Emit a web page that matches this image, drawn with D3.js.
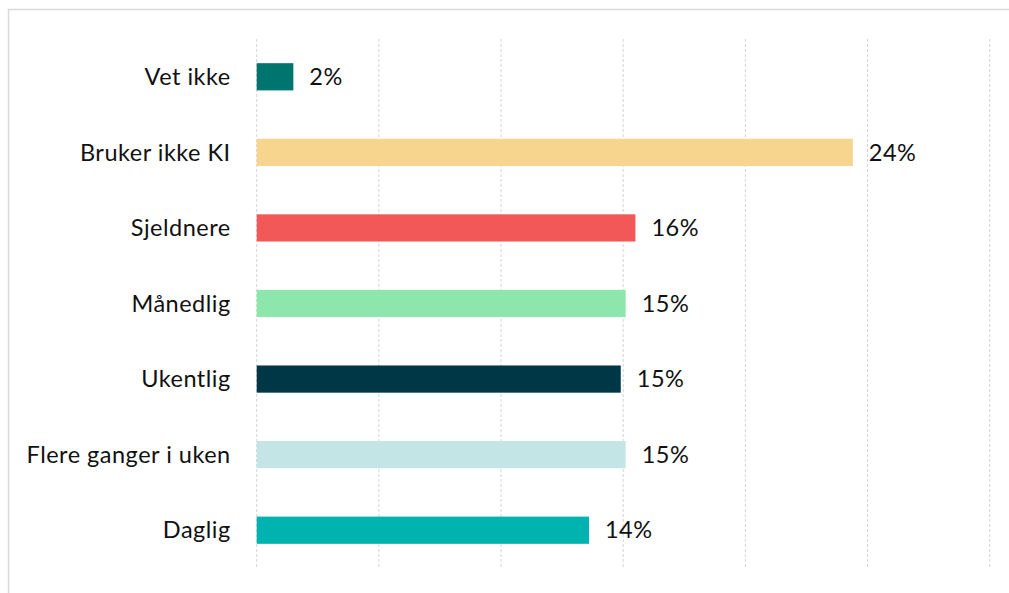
<!DOCTYPE html>
<html>
<head>
<meta charset="utf-8">
<script src="https://cdn.jsdelivr.net/npm/d3@7"></script>
<style>
  body { margin: 0; background: #fff; }
  svg { display: block; }
</style>
</head>
<body>
<div id="chart"></div>
<script>
const categories = ["Vet ikke", "Bruker ikke KI", "Sjeldnere", "Månedlig", "Ukentlig", "Flere ganger i uken", "Daglig"];
const values = [1.5, 24.4, 15.5, 15.1, 14.9, 15.1, 13.6];
const labels = ["2%", "24%", "16%", "15%", "15%", "15%", "14%"];
const colors = ["#00746F", "#F7D58E", "#F25858", "#8DE6AB", "#003746", "#C4E5E6", "#00B3B1"];
const gridTicks = [0, 5, 10, 15, 20, 25, 30];

const width = 1009, height = 593;
const margin = { top: 39, right: 19.3, bottom: 25, left: 256.7 };

const svg = d3.select("#chart")
  .append("svg")
  .attr("width", width).attr("height", height);

// ramme
svg.append("rect")
  .attr("x", 8.5).attr("y", 9.5)
  .attr("width", width + 10).attr("height", height + 10)
  .attr("fill", "none")
  .attr("stroke", "#d9d9d9")
  .attr("stroke-width", 1.5);

const x = d3.scaleLinear()
  .domain([0, 30])
  .range([margin.left, width - margin.right]);

const y = d3.scaleBand()
  .domain(categories)
  .range([margin.top, height - margin.bottom])
  .paddingInner(0.64)
  .paddingOuter(0.32);

// rutenett
svg.append("g")
  .selectAll("line")
  .data(gridTicks)
  .join("line")
  .attr("x1", d => x(d)).attr("x2", d => x(d))
  .attr("y1", margin.top).attr("y2", height - margin.bottom)
  .attr("stroke", "#d4d4d4")
  .attr("stroke-width", 1)
  .attr("stroke-dasharray", "3,2");

const data = categories.map((c, i) => ({ cat: c, value: values[i], label: labels[i], color: colors[i] }));

svg.append("g")
  .selectAll("rect")
  .data(data)
  .join("rect")
  .attr("x", x(0))
  .attr("y", d => y(d.cat))
  .attr("width", d => x(d.value) - x(0))
  .attr("height", y.bandwidth())
  .attr("fill", d => d.color);

const font = "Lato, 'Open Sans', sans-serif";

// kategorinavn
svg.append("g")
  .selectAll("text")
  .data(data)
  .join("text")
  .attr("x", x(0) - 26)
  .attr("y", d => y(d.cat) + y.bandwidth() / 2)
  .attr("dy", "0.35em")
  .attr("text-anchor", "end")
  .attr("font-family", font)
  .attr("font-size", 23.5)
  .attr("letter-spacing", 0.5)
  .attr("fill", "#111")
  .text(d => d.cat);

// verdietiketter
svg.append("g")
  .selectAll("text")
  .data(data)
  .join("text")
  .attr("x", d => x(d.value) + 16)
  .attr("y", d => y(d.cat) + y.bandwidth() / 2)
  .attr("dy", "0.35em")
  .attr("font-family", font)
  .attr("font-size", 23.5)
  .attr("letter-spacing", 0.5)
  .attr("fill", "#111")
  .text(d => d.label);
</script>
</body>
</html>
